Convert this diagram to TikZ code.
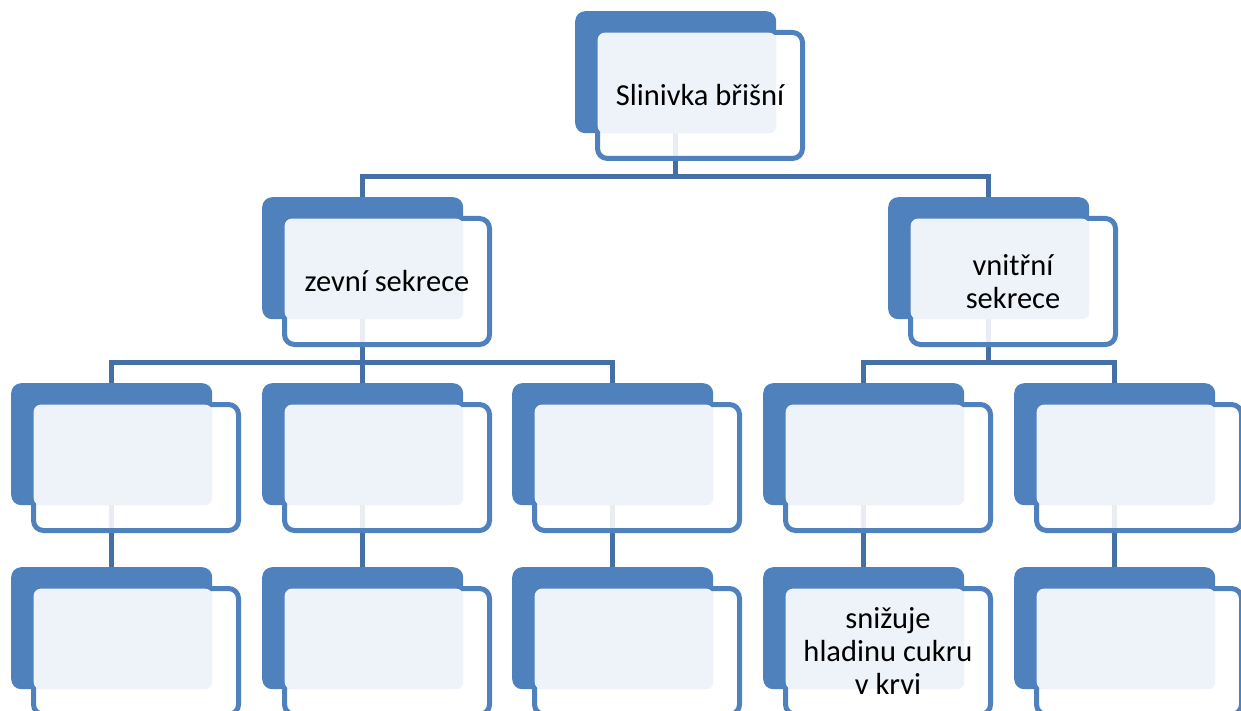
\documentclass[tikz,border=0pt]{standalone}
\usepackage{fontspec}
\setmainfont{Carlito}
\usetikzlibrary{backgrounds}
\definecolor{boxblue}{HTML}{4F81BD}
\definecolor{lightfill}{HTML}{EEF2F9}
\definecolor{linkblue}{HTML}{4470A6}
\tikzset{
  backbox/.style={draw=none, fill=boxblue, rounded corners=10pt, minimum width=201pt, minimum height=122pt, inner sep=0pt, anchor=north west},
  frontbox/.style={draw=boxblue, line width=5pt, fill=white, fill opacity=0.88, rounded corners=10pt, minimum width=205pt, minimum height=126pt, inner sep=0pt, anchor=north west},
  lightbox/.style={draw=none, fill=lightfill, rounded corners=7pt, minimum width=178.5pt, minimum height=100.5pt, inner sep=0pt, anchor=north west},
  boxtext/.style={align=center, text=black, inner sep=0pt, font=\fontsize{30.5}{33}\selectfont},
  link/.style={draw=linkblue, line width=5pt}
}
\newcommand\orgnode[4]{%
  \node[backbox] (#1-b) at (#2,#3) {};
  \node[frontbox] (#1-f) at (#2+20,#3+19) {};
  \node[lightbox] (#1-l) at (#2+22.5,#3+21.5) {};
  \node[boxtext] (#1-t) at (#1-f.center) {#4};
}
\begin{document}
\begin{tikzpicture}[x=1pt, y=-1pt]
  \useasboundingbox (0,0) rectangle (1241,711);
  % top
  \orgnode{top}{575}{11}{Slinivka břišní}
  % level 2
  \orgnode{zs}{262}{197}{zevní sekrece}
  \orgnode{vs}{888}{197}{vnitřní\\sekrece}
  % level 3
  \orgnode{ca}{11}{383}{}
  \orgnode{cb}{262}{383}{}
  \orgnode{cc}{512}{383}{}
  \orgnode{cd}{763}{383}{}
  \orgnode{ce}{1014}{383}{}
  % level 4
  \orgnode{da}{11}{567}{}
  \orgnode{db}{262}{567}{}
  \orgnode{dc}{512}{567}{}
  \orgnode{dd}{763}{567}{snižuje\\hladinu cukru\\v krvi}
  \orgnode{de}{1014}{567}{}
  \begin{pgfonlayer}{background}
    \fill[white] (0,0) rectangle (1241,711);
    \draw[link] (top-b.south) -- ++(0,43) -| (zs-b.north);
    \draw[link] (top-b.south) -- ++(0,43) -| (vs-b.north);
    \draw[link] (zs-b.south) -- ++(0,43) -| (ca-b.north);
    \draw[link] (zs-b.south) -- (cb-b.north);
    \draw[link] (zs-b.south) -- ++(0,43) -| (cc-b.north);
    \draw[link] (vs-b.south) -- ++(0,43) -| (cd-b.north);
    \draw[link] (vs-b.south) -- ++(0,43) -| (ce-b.north);
    \draw[link] (ca-b.south) -- (da-b.north);
    \draw[link] (cb-b.south) -- (db-b.north);
    \draw[link] (cc-b.south) -- (dc-b.north);
    \draw[link] (cd-b.south) -- (dd-b.north);
    \draw[link] (ce-b.south) -- (de-b.north);
  \end{pgfonlayer}
\end{tikzpicture}
\end{document}
